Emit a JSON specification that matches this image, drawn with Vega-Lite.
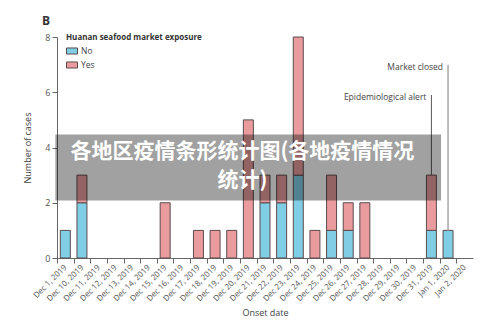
{
  "$schema": "https://vega.github.io/schema/vega-lite/v6.json",
  "width": 416,
  "height": 221,
  "autosize": {"type": "none"},
  "padding": {"left": 57, "top": 37, "right": 27, "bottom": 77},
  "background": "#ffffff",
  "config": {"view": {"stroke": null}, "font": "Open Sans"},
  "title": {"text": "B", "anchor": "start", "frame": "group", "dx": -15, "offset": 5, "fontSize": 12, "fontWeight": "bold", "color": "#333333", "font": "Open Sans"},
  "datasets": {
    "cases": [
      {"date": "Dec 1, 2019", "exposure": "No", "count": 1},
      {"date": "Dec 10, 2019", "exposure": "No", "count": 2},
      {"date": "Dec 10, 2019", "exposure": "Yes", "count": 1},
      {"date": "Dec 15, 2019", "exposure": "Yes", "count": 2},
      {"date": "Dec 17, 2019", "exposure": "Yes", "count": 1},
      {"date": "Dec 18, 2019", "exposure": "Yes", "count": 1},
      {"date": "Dec 19, 2019", "exposure": "Yes", "count": 1},
      {"date": "Dec 20, 2019", "exposure": "Yes", "count": 5},
      {"date": "Dec 21, 2019", "exposure": "No", "count": 2},
      {"date": "Dec 21, 2019", "exposure": "Yes", "count": 1},
      {"date": "Dec 22, 2019", "exposure": "No", "count": 2},
      {"date": "Dec 22, 2019", "exposure": "Yes", "count": 1},
      {"date": "Dec 23, 2019", "exposure": "No", "count": 3},
      {"date": "Dec 23, 2019", "exposure": "Yes", "count": 5},
      {"date": "Dec 24, 2019", "exposure": "Yes", "count": 1},
      {"date": "Dec 25, 2019", "exposure": "No", "count": 1},
      {"date": "Dec 25, 2019", "exposure": "Yes", "count": 2},
      {"date": "Dec 26, 2019", "exposure": "No", "count": 1},
      {"date": "Dec 26, 2019", "exposure": "Yes", "count": 1},
      {"date": "Dec 27, 2019", "exposure": "Yes", "count": 2},
      {"date": "Dec 31, 2019", "exposure": "No", "count": 1},
      {"date": "Dec 31, 2019", "exposure": "Yes", "count": 2},
      {"date": "Jan 1, 2020", "exposure": "No", "count": 1}
    ],
    "notes": [
      {"date": "Dec 31, 2019", "label": "Epidemiological alert", "top": 5.9, "base": 3},
      {"date": "Jan 1, 2020", "label": "Market closed", "top": 7.0, "base": 1}
    ],
    "banner": [
      {"from": "Dec 1, 2019", "to": "Jan 1, 2020", "low": 2.08, "high": 4.47, "center": "Dec 20, 2019", "mid": 3.84, "text": "各地区疫情条形统计图(各地疫情情况\n统计)"}
    ]
  },
  "layer": [
    {
      "data": {"name": "cases"},
      "mark": {"type": "bar", "stroke": "#5b4b4d", "strokeWidth": 1},
      "encoding": {
        "x": {
          "field": "date", "type": "ordinal", "title": "Onset date",
          "scale": {
            "domain": ["Dec 1, 2019", "Dec 10, 2019", "Dec 11, 2019", "Dec 12, 2019", "Dec 13, 2019", "Dec 14, 2019", "Dec 15, 2019", "Dec 16, 2019", "Dec 17, 2019", "Dec 18, 2019", "Dec 19, 2019", "Dec 20, 2019", "Dec 21, 2019", "Dec 22, 2019", "Dec 23, 2019", "Dec 24, 2019", "Dec 25, 2019", "Dec 26, 2019", "Dec 27, 2019", "Dec 28, 2019", "Dec 29, 2019", "Dec 30, 2019", "Dec 31, 2019", "Jan 1, 2020", "Jan 2, 2020"],
            "paddingInner": 0.4, "paddingOuter": 0.2
          },
          "axis": {
            "labelAngle": -45, "labelAlign": "right", "labelBaseline": "middle",
            "labelFontSize": 8, "labelColor": "#555555", "labelPadding": 3,
            "tickOffset": -8.32, "labelOffset": 8.32, "tickSize": 5,
            "tickColor": "#666666", "domainColor": "#666666",
            "titleFontSize": 9, "titleFontWeight": "normal", "titleColor": "#444444", "titlePadding": 6
          }
        },
        "y": {
          "aggregate": "sum", "field": "count", "type": "quantitative", "title": "Number of cases",
          "scale": {"domain": [0, 8], "nice": false},
          "axis": {
            "values": [0, 2, 4, 6, 8], "grid": false, "tickSize": 5,
            "labelFontSize": 9, "labelColor": "#555555", "labelPadding": 2,
            "tickColor": "#666666", "domainColor": "#666666",
            "titleFontSize": 9, "titleFontWeight": "normal", "titleColor": "#444444", "titlePadding": 12
          }
        },
        "color": {
          "field": "exposure", "type": "nominal",
          "scale": {"domain": ["No", "Yes"], "range": ["#7fcee5", "#e99b9e"]},
          "legend": {
            "title": "Huanan seafood market exposure", "orient": "none", "legendX": 9, "legendY": -3,
            "titleFontSize": 8, "titleFontWeight": "bold", "titleColor": "#333333", "titlePadding": 3,
            "labelFontSize": 8.5, "labelColor": "#444444", "labelOffset": 3,
            "symbolType": "M-1,-0.55H1V0.55H-1Z", "symbolSize": 121,
            "symbolStrokeColor": "#5b4b4d", "symbolStrokeWidth": 1, "symbolOpacity": 1,
            "rowPadding": 2
          }
        },
        "order": {"field": "exposure", "sort": "ascending"}
      }
    },
    {
      "data": {"name": "notes"},
      "transform": [{"filter": "datum.label == 'Epidemiological alert'"}],
      "mark": {"type": "rule", "color": "#555555", "strokeWidth": 1},
      "encoding": {
        "x": {"field": "date", "type": "ordinal", "title": "Onset date"},
        "y": {"field": "top", "type": "quantitative", "title": "Number of cases"},
        "y2": {"field": "base"}
      }
    },
    {
      "data": {"name": "notes"},
      "transform": [{"filter": "datum.label == 'Market closed'"}],
      "mark": {"type": "rule", "color": "#a8a8a8", "strokeWidth": 1.5},
      "encoding": {
        "x": {"field": "date", "type": "ordinal", "title": "Onset date"},
        "y": {"field": "top", "type": "quantitative", "title": "Number of cases"},
        "y2": {"field": "base"}
      }
    },
    {
      "data": {"name": "notes"},
      "mark": {"type": "text", "align": "right", "baseline": "middle", "dx": -5, "dy": 2, "fontSize": 8.5, "color": "#444444"},
      "encoding": {
        "x": {"field": "date", "type": "ordinal", "title": "Onset date"},
        "y": {"field": "top", "type": "quantitative", "title": "Number of cases"},
        "text": {"field": "label"}
      }
    },
    {
      "data": {"name": "banner"},
      "mark": {"type": "rect", "color": "#000000", "opacity": 0.37, "xOffset": -5, "x2Offset": -7},
      "encoding": {
        "x": {"field": "from", "type": "ordinal", "title": "Onset date", "bandPosition": 0},
        "x2": {"field": "to"},
        "y": {"field": "low", "type": "quantitative", "title": "Number of cases"},
        "y2": {"field": "high"}
      }
    },
    {
      "data": {"name": "banner"},
      "mark": {"type": "text", "align": "center", "baseline": "middle", "dx": -6, "font": "Noto Sans CJK SC", "fontWeight": "bold", "fontSize": 21, "lineHeight": 29, "color": "#ffffff", "lineBreak": "\n"},
      "encoding": {
        "x": {"field": "center", "type": "ordinal", "title": "Onset date"},
        "y": {"field": "mid", "type": "quantitative", "title": "Number of cases"},
        "text": {"field": "text"}
      }
    }
  ]
}
